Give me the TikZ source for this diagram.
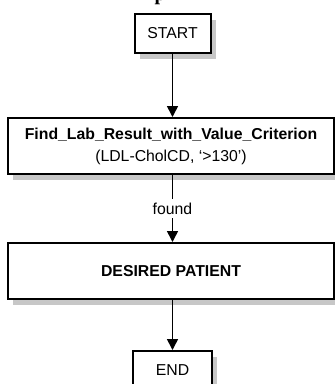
\documentclass[tikz,border=0pt]{standalone}
\usepackage{fontspec}
\setmainfont{Liberation Sans}
\newfontfamily\titleserif{Liberation Serif}
\usetikzlibrary{arrows.meta,shadows}

\tikzset{
  flowbox/.style={draw=black, line width=2pt, fill=white, inner sep=0pt,
    align=center, font=\fontsize{15.8}{22}\selectfont,
    drop shadow={shadow xshift=5pt, shadow yshift=-6pt, fill=black!22, opacity=1}},
  flowarrow/.style={line width=1.6pt, -{Triangle[width=11pt,length=11pt]}},
  flowline/.style={line width=1.6pt},
  edgelabel/.style={fill=white, inner xsep=2pt, inner ysep=3.5pt,
    text height=11.7pt, text depth=0pt, font=\fontsize{15.8}{18}\selectfont}
}

\begin{document}
\begin{tikzpicture}[x=1pt, y=-1pt]
  \useasboundingbox (0,0) rectangle (335,384);

  % tail of the heading above the chart
  \node[anchor=base west, inner sep=0pt,
        font=\titleserif\bfseries\fontsize{20}{20}\selectfont] (heading) at (154.5,0) {p};

  % process boxes
  \node[flowbox, minimum width=76pt, minimum height=39pt] (start) at (172.5,33.5) {START};
  \node[flowbox, minimum width=326pt, minimum height=56pt] (find) at (171,146)
    {\textbf{Find\_Lab\_Result\_with\_Value\_Criterion}\\(LDL-CholCD, ‘>130’)};
  \node[flowbox, minimum width=326pt, minimum height=56pt] (desired) at (171,271)
    {\textbf{DESIRED PATIENT}};
  \node[flowbox, minimum width=79pt, minimum height=39pt] (end) at (172.5,370.5) {END};

  % edge label between the two wide boxes
  \node[edgelabel] (found) at (172.5,208.5) {found};

  % connectors
  \draw[flowarrow] (start.south) -- (start.south |- find.north);
  \draw[flowline] (found.north |- find.south) -- (found.north);
  \draw[flowarrow] (found.south) -- (found.south |- desired.north);
  \draw[flowarrow] (desired.south -| end.north) -- (end.north);
\end{tikzpicture}
\end{document}
